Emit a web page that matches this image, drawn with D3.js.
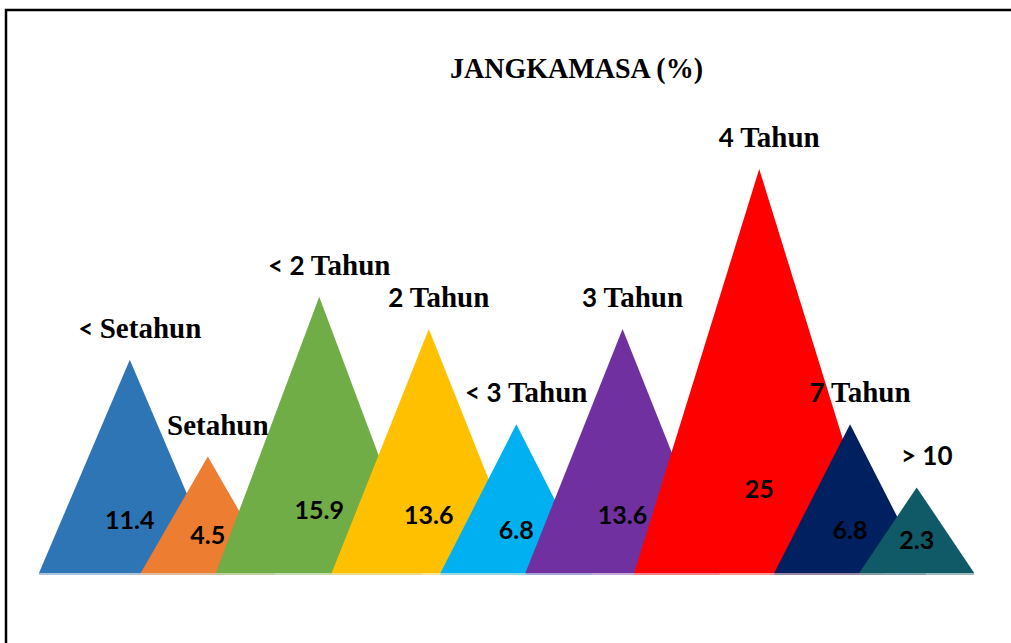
<!DOCTYPE html>
<html>
<head>
<meta charset="utf-8">
<script src="https://cdn.jsdelivr.net/npm/d3@7"></script>
<style>
  body { margin: 0; background: #fff; }
  svg { display: block; }
</style>
</head>
<body>
<div id="chart"></div>
<script>
// data
const categories = ["< Setahun", "Setahun", "< 2 Tahun", "2 Tahun", "< 3 Tahun", "3 Tahun", "4 Tahun", "7 Tahun", "> 10"];
const values = [11.4, 4.5, 15.9, 13.6, 6.8, 13.6, 25, 6.8, 2.3];
const colors = ["#2E75B6", "#ED7D31", "#70AD47", "#FFC000", "#00B0F0", "#7030A0", "#FF0000", "#002060", "#0F5A66"];

const serif = '"Liberation Serif", "Times New Roman", serif';
const sans = '"Lato", "Liberation Sans", sans-serif';

const width = 1011;
const height = 643;
const baseY = 573;
const topY = 169;
const startX = 39;
const overlap = 0.56;   // next triangle starts at this fraction of the previous base

const svg = d3.select("#chart").append("svg")
    .attr("width", width)
    .attr("height", height)
    .attr("viewBox", [0, 0, width, height]);

// frame
svg.append("rect")
    .attr("x", 6).attr("y", 10)
    .attr("width", width).attr("height", height)
    .attr("fill", "none")
    .attr("stroke", "#000")
    .attr("stroke-width", 2.5);

// title
svg.append("text")
    .attr("x", 450).attr("y", 78)
    .attr("textLength", 253)
    .attr("lengthAdjust", "spacingAndGlyphs")
    .style("font-family", serif)
    .style("font-weight", "bold")
    .style("font-size", "30px")
    .text("JANGKAMASA (%)");

// scales
const y = d3.scaleLinear()
    .domain([-3.8, d3.max(values)])
    .range([baseY, topY]);

const heights = values.map(v => baseY - y(v));

const halfW = d3.scaleSqrt()
    .domain([0, d3.max(heights)])
    .range([0, 125]);

// place triangles one after another, each overlapping the one before
const items = [];
let left = startX;
categories.forEach((c, i) => {
    const hw = halfW(heights[i]);
    items.push({ cat: c, value: values[i], color: colors[i], left: left, hw: hw, cx: left + hw, h: heights[i] });
    left += overlap * 2 * hw;
});

const g = svg.append("g")
    .selectAll("g")
    .data(items)
    .join("g");

g.append("path")
    .attr("d", d => `M${d.left},${baseY}L${d.cx},${y(d.value)}L${d.left + 2 * d.hw},${baseY}Z`)
    .attr("fill", d => d.color);

g.append("line")
    .attr("x1", d => d.left)
    .attr("x2", d => d.left + 2 * d.hw)
    .attr("y1", baseY + 1)
    .attr("y2", baseY + 1)
    .attr("stroke", d => d3.interpolateRgb(d.color, "#fff")(0.45))
    .attr("stroke-width", 1.5);

// category label above the tip: numbers in sans, words in serif
const label = g.append("text")
    .attr("x", d => d.cx + 10)
    .attr("y", d => y(d.value) - 22)
    .attr("text-anchor", "middle")
    .style("font-weight", "bold");

label.each(function(d) {
    const m = d.cat.match(/^([<>0-9 ]*)(.*)$/);
    const t = d3.select(this);
    if (m[1]) t.append("tspan")
        .style("font-family", sans)
        .style("font-size", "26px")
        .text(m[1]);
    if (m[2]) t.append("tspan")
        .style("font-family", serif)
        .style("font-size", "29px")
        .text(m[2]);
});

// value label inside
g.append("text")
    .attr("x", d => d.cx)
    .attr("y", d => baseY - (0.16 * d.h + 10))
    .attr("text-anchor", "middle")
    .style("font-family", sans)
    .style("font-weight", "bold")
    .style("font-size", "25px")
    .attr("fill", "#000")
    .text(d => d.value);
</script>
</body>
</html>
